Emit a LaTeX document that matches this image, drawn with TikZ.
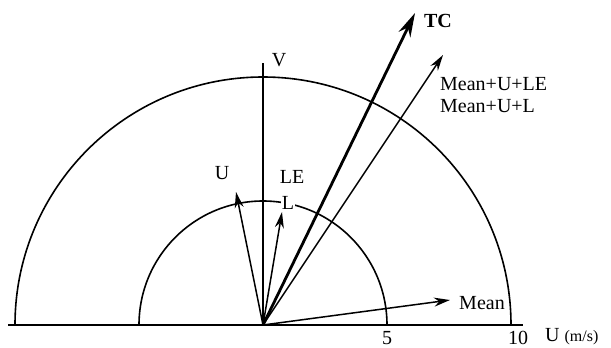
\documentclass[tikz,border=0pt]{standalone}
\usepackage{fontspec}
\setmainfont{Liberation Serif}
\usetikzlibrary{arrows.meta}
\begin{document}
\begin{tikzpicture}[x=1pt,y=-1pt,
  lbl/.style={font=\fontsize{20}{22}\selectfont, inner sep=1pt},
  vec/.style={line width=1.5pt, -{Stealth[length=16pt,width=9pt]}},
  bigvec/.style={line width=2.8pt, -{Stealth[length=24pt,width=13pt]}},
  axisline/.style={line width=1.8pt},
  arcline/.style={line width=1.6pt}]
\useasboundingbox (0,0) rectangle (611,348);
\coordinate (O) at (263,325);
\coordinate (axL) at (8,325);
\coordinate (axR) at (523,325);
\coordinate (vtop) at (263,63);
\coordinate (meanT) at (450,300);
\coordinate (uT) at (236,192);
\coordinate (lT) at (282,212);
\coordinate (tcT) at (415,13);
\coordinate (mulT) at (443,55);
% axes
\draw[axisline] (axL) -- (axR);
\draw[axisline] (O) -- (vtop);
% arcs
\draw[arcline] (387,325) arc[start angle=0,end angle=-180,radius=124];
\draw[arcline] (511,325) arc[start angle=0,end angle=-180,radius=248];
% vectors
\draw[vec] (O) -- (meanT);
\draw[vec] (O) -- (uT);
\draw[vec] (O) -- (lT);
\draw[vec] (O) -- (mulT);
\draw[bigvec] (O) -- (tcT);
% labels
\node[lbl] (V) at (279,60) {V};
\node[lbl] (U) at (222,173) {U};
\node[lbl] (LE) at (292,177) {LE};
\node[lbl, fill=white] (L) at (288,203) {L};
\node[lbl, font=\fontsize{20}{22}\selectfont\bfseries] (TC) at (438,21) {TC};
\node[lbl, anchor=west] (mule) at (439,84) {Mean+U+LE};
\node[lbl, anchor=west] (mul) at (439,106) {Mean+U+L};
\node[lbl] (mean) at (482,303) {Mean};
\node[lbl] (five) at (387,338) {5};
\node[lbl] (ten) at (518,338) {10};
\node[lbl, anchor=west] (uax) at (544,337) {U {\fontsize{16}{18}\selectfont(m/s)}};
\end{tikzpicture}
\end{document}
